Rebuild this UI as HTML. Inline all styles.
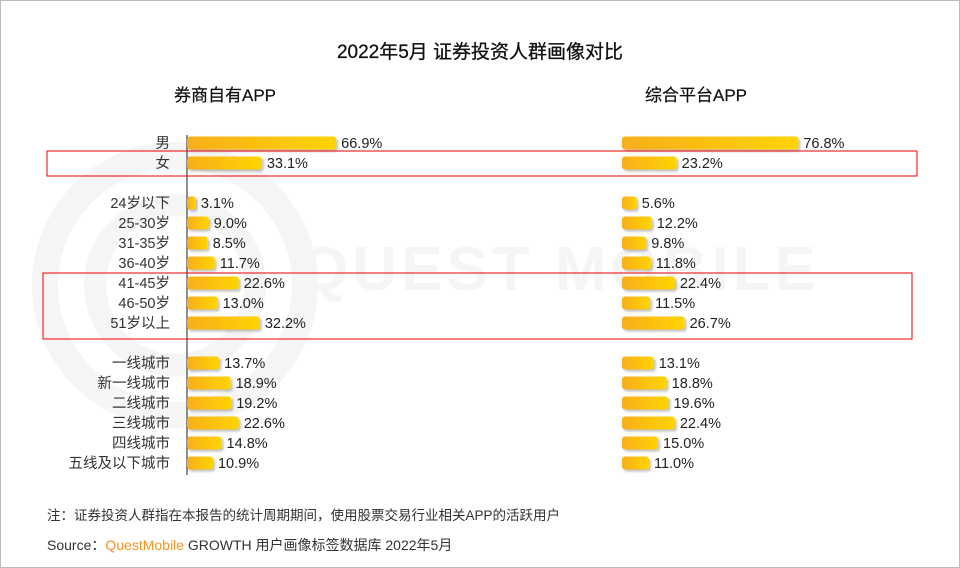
<!DOCTYPE html>
<html><head><meta charset="utf-8"><style>
body{margin:0;background:#fff;font-family:"Liberation Sans","Noto Sans CJK SC",sans-serif;}
#c{position:relative;width:960px;height:568px;overflow:hidden;}
</style></head><body>
<div id="c">
<svg width="960" height="568" xmlns="http://www.w3.org/2000/svg">
<defs>
<linearGradient id="g" x1="0" x2="1" y1="0" y2="0"><stop offset="0" stop-color="#f8ae1c"/><stop offset="1" stop-color="#ffd400"/></linearGradient>
<filter id="sh" x="-10%" y="-30%" width="130%" height="180%"><feDropShadow dx="2" dy="2" stdDeviation="1.2" flood-color="#000" flood-opacity="0.25"/></filter>
</defs>
<rect x="0.5" y="0.5" width="959" height="567" fill="#fff" stroke="#bbb"/>
<g opacity="0.035">
<circle cx="175" cy="285" r="130" fill="none" stroke="#000" stroke-width="26"/>
<circle cx="175" cy="285" r="80" fill="none" stroke="#000" stroke-width="22"/>
<text x="300" y="290" font-size="62" font-weight="bold" fill="#000" letter-spacing="4">QUEST MOBILE</text>
</g>
<text x="480" y="58" text-anchor="middle" font-size="19" fill="#111" stroke="#111" stroke-width="0.3">2022年5月 证券投资人群画像对比</text>
<text x="225" y="101" text-anchor="middle" font-size="17" fill="#111" stroke="#111" stroke-width="0.2">券商自有APP</text>
<text x="696" y="101" text-anchor="middle" font-size="17" fill="#111" stroke="#111" stroke-width="0.2">综合平台APP</text>
<line x1="187" y1="135" x2="187" y2="475" stroke="#222" stroke-width="1"/>
<g id="bars"></g>
<rect x="47" y="151" width="870" height="25" fill="none" stroke="#e00" stroke-width="1"/>
<rect x="43" y="273" width="869" height="66" fill="none" stroke="#e00" stroke-width="1"/>
<text x="47" y="520" font-size="13.5" fill="#333">注：证券投资人群指在本报告的统计周期期间，使用股票交易行业相关APP的活跃用户</text>
<text x="47" y="550" font-size="14" fill="#333">Source：<tspan fill="#f7941d">QuestMobile</tspan> GROWTH 用户画像标签数据库 2022年5月</text>
</svg>
</div>
<script>
const categories=["男","女","24岁以下","25-30岁","31-35岁","36-40岁","41-45岁","46-50岁","51岁以上","一线城市","新一线城市","二线城市","三线城市","四线城市","五线及以下城市"];
const brokerValues=[66.9,33.1,3.1,9.0,8.5,11.7,22.6,13.0,32.2,13.7,18.9,19.2,22.6,14.8,10.9];
const platformValues=[76.8,23.2,5.6,12.2,9.8,11.8,22.4,11.5,26.7,13.1,18.8,19.6,22.4,15.0,11.0];
const rowSlots=[0,1,3,4,5,6,7,8,9,11,12,13,14,15,16];
const NS="http://www.w3.org/2000/svg";
const g=document.getElementById("bars");
function yPos(i){return 143+rowSlots[i]*20;}
function xL(v){return 2.2*v+2;}
function xR(v){return 2.27*v+2;}
function mk(t,a){const e=document.createElementNS(NS,t);for(const k in a)e.setAttribute(k,a[k]);g.appendChild(e);return e;}
categories.forEach((c,i)=>{
  const y=yPos(i);
  const lab=mk("text",{x:170,y:y+5,"text-anchor":"end","font-size":14.5,fill:"#333"});
  lab.textContent=c;
  
  
  [[187,brokerValues[i],xL,'broker'],[622,platformValues[i],xR,'platform']].forEach(([x0,v,f,s])=>{
    const w=f(v);
    const r=mk("rect",{x:x0,y:y-6.5,width:w,height:13,rx:3,fill:"url(#g)",filter:"url(#sh)"});
    
    
    const t=mk("text",{x:x0+w+5,y:y+5,"font-size":14.5,fill:"#222"});
    t.textContent=v.toFixed(1)+"%";
    
    
  });
});
</script>
</body></html>
